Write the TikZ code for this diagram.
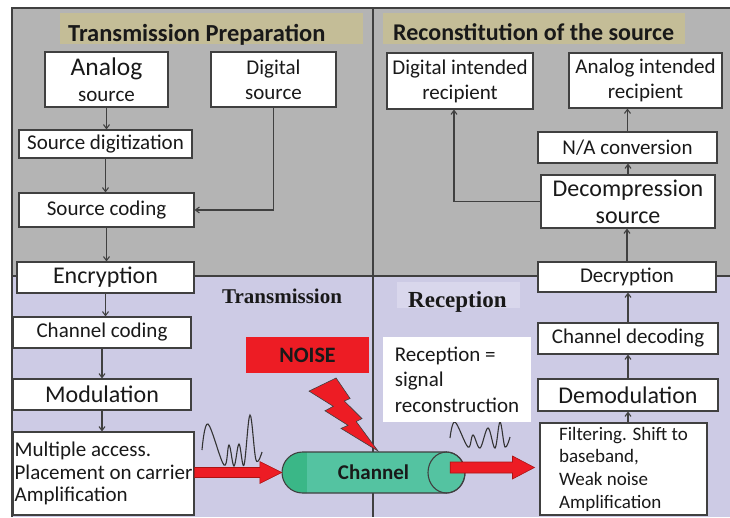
\documentclass[tikz,border=0pt]{standalone}
\usepackage{fontspec}
\setmainfont{Carlito}
\newfontfamily\tnr{Liberation Serif}
\usetikzlibrary{arrows.meta,calc}
\definecolor{topgray}{RGB}{180,180,180}
\definecolor{lav}{RGB}{205,203,229}
\definecolor{khaki}{RGB}{196,189,151}
\definecolor{lavlight}{RGB}{217,215,236}
\definecolor{noisered}{RGB}{237,28,36}
\definecolor{darkred}{RGB}{170,20,20}
\definecolor{chgreen}{RGB}{84,195,161}
\definecolor{chdark}{RGB}{58,183,135}
\definecolor{edge}{RGB}{64,64,64}
\definecolor{txt}{RGB}{25,25,25}
\newcommand\fsz[2]{\fontsize{#1}{#2}\selectfont}
\begin{document}
\begin{tikzpicture}[x=1pt,y=-1pt,
  box/.style={draw=edge, line width=1.1pt, fill=white, inner sep=0pt, align=center, text=txt},
  arr/.style={draw=edge, line width=1.1pt, -{Straight Barb[length=4pt,width=6pt]}},
  frame/.style={draw=edge, line width=1.2pt},
  wave/.style={draw=edge!80!black, line width=1.1pt},
  redblock/.style={fill=noisered, draw=darkred, line width=0.6pt, line join=miter}
]
\useasboundingbox (0,0) rectangle (730,517);
\fill[white] (0,0) rectangle (730,517);
\fill[topgray] (12,8) rectangle (730,276);
\fill[lav] (12,276) rectangle (730,517);
\draw[frame] (12,517) -- (12,8) -- (730,8);
\draw[frame] (12,276) -- (730,276);
\draw[frame] (373,8) -- (373,517);

% titles
\fill[khaki] (60,13) rectangle (363,44);
\fill[khaki] (383,13) rectangle (685,44);
\node[anchor=base west, inner sep=0, text=txt, font=\bfseries\fsz{24.5}{27}] (ttp) at (68,41) {Transmission Preparation};
\node[anchor=base west, inner sep=0, text=txt, font=\bfseries\fsz{24}{27}] (trs) at (393,40) {Reconstitution of the source};

% left column
\node[box, minimum width=123pt, minimum height=55pt, font=\fsz{21}{26}] (anl) at (106.5,79.5) {{\fsz{25.5}{27}Analog}\\source};
\node[box, minimum width=125pt, minimum height=55pt, font=\fsz{21}{25}] (dig) at (273.5,79.5) {Digital\\source};
\node[box, minimum width=173pt, minimum height=28pt, font=\fsz{21}{24}] (sdig) at (105.5,144) {Source digitization};
\node[box, minimum width=175pt, minimum height=34pt, font=\fsz{21}{24}] (scod) at (106.5,210) {Source coding};
\node[box, minimum width=177pt, minimum height=31pt, font=\fsz{24}{26}] (enc) at (105.5,277.5) {Encryption};
\node[box, minimum width=178pt, minimum height=31pt, font=\fsz{21}{24}] (chc) at (102,332.5) {Channel coding};
\node[box, minimum width=178pt, minimum height=31pt, font=\fsz{24}{26}] (mod) at (102,394.5) {Modulation};
\node[box, minimum width=181pt, minimum height=83pt, font=\fsz{21}{22.5}, align=left] (mac) at (103.5,473.5) {Multiple access.\\Placement on carrier\\Amplification};

% right column
\node[box, minimum width=146pt, minimum height=56pt, font=\fsz{21}{25}] (drec) at (460,81) {Digital intended\\recipient};
\node[box, minimum width=153pt, minimum height=55pt, font=\fsz{21}{25}] (arec) at (645.5,80.5) {Analog intended\\recipient};
\node[box, minimum width=179pt, minimum height=31pt, font=\fsz{21}{24}] (na) at (627.5,147.5) {N/A conversion};
\node[box, minimum width=174pt, minimum height=53pt, font=\fsz{24}{27}] (dec) at (628,201.5) {Decompression\\source};
\node[box, minimum width=178pt, minimum height=30pt, font=\fsz{21}{24}] (decr) at (627,277) {Decryption};
\node[box, minimum width=180pt, minimum height=31pt, font=\fsz{21}{24}] (chd) at (628,338.5) {Channel decoding};
\node[box, minimum width=180pt, minimum height=32pt, font=\fsz{24}{26}] (dem) at (628,395) {Demodulation};
\node[box, minimum width=167pt, minimum height=92pt, font=\fsz{19}{22.7}, align=left] (filt) at (623.5,469) {Filtering. Shift to\\baseband,\\Weak noise\\Amplification};

% flow arrows left
\draw[arr] (anl.south) -- (anl.south |- sdig.north);
\draw[arr] (sdig.south) -- (sdig.south |- scod.north);
\draw[arr] (dig.south) |- (scod.east);
\draw[arr] (scod.south) -- (scod.south |- enc.north);
\draw[arr] (enc.south) -- (enc.south |- chc.north);
\draw[arr] (chc.south) -- (chc.south |- mod.north);
\draw[arr] (mod.south) -- (mod.south |- mac.north);

% flow arrows right
\draw[arr] (dem.south |- filt.north) -- (dem.south);
\draw[arr] (dem.north) -- (dem.north |- chd.south);
\draw[arr] (chd.north) -- (chd.north |- decr.south);
\draw[arr] (decr.north) -- (decr.north |- dec.south);
\draw[arr] (dec.north) -- (dec.north |- na.south);
\draw[arr] (na.north) -- (na.north |- arec.south);
\coordinate (drecin) at ([xshift=-6pt]drec.south);
\draw[arr] (dec.west) -| (drecin);

% section labels
\node[anchor=base west, inner sep=0, text=txt, font=\tnr\bfseries\fsz{21}{24}] (ltr) at (222,303) {Transmission};
\fill[lavlight] (397,282) rectangle (520,308);
\node[anchor=base west, inner sep=0, text=txt, font=\tnr\bfseries\fsz{23}{26}] (lrc) at (408,307) {Reception};

% waves
\draw[wave] plot[smooth, tension=0.6] coordinates {(202,450) (208,424) (224,465) (229,445) (234,466) (239,444) (244,465) (250,415) (256,460) (262,452)};
\draw[wave] plot[smooth, tension=0.6] coordinates {(450,438) (455,422) (468,447) (473,435) (480,448) (488,428) (495,448) (500,422) (505,447) (510,437)};

% reception note
\node[fill=white, minimum width=148pt, minimum height=85pt, inner sep=0pt, align=left, text=txt, font=\fsz{21}{25.5}] (recbox) at (457,379.5) {Reception =\\signal\\reconstruction};

% noise
\node[fill=noisered, minimum width=123pt, minimum height=36pt, inner sep=0pt, text=txt, font=\bfseries\fsz{22}{24}] (noise) at (307.5,355) {NOISE};
\filldraw[fill=noisered, draw=edge, line width=0.6pt, line join=miter] (336.1,378) -- (350.1,398.5) -- (344.3,401) -- (362,418.6) -- (356.2,421.5) -- (378,451) -- (341,428.4) -- (348,425.3) -- (325,410.8) -- (333.3,406.3) -- (309,391.1) -- cycle;

% channel
\begin{scope}
\path[clip] (302.5,452) -- (446.5,452) arc[start angle=-90, end angle=90, x radius=18.5, y radius=20.5] -- (302.5,493) arc[start angle=90, end angle=270, radius=20.5] -- cycle;
\fill[chgreen] (280,450) rectangle (470,495);
\fill[chdark] (280,450) rectangle (307,495);
\end{scope}
\draw[edge, line width=1.1pt] (302.5,452) -- (446.5,452) arc[start angle=-90, end angle=90, x radius=18.5, y radius=20.5] -- (302.5,493) arc[start angle=90, end angle=270, radius=20.5] -- cycle;
\draw[edge, line width=1.1pt] (446.5,472.5) ellipse [x radius=18.5, y radius=20.5];
\node[inner sep=0pt, minimum width=183pt, minimum height=41pt, text=txt, font=\bfseries\fsz{21}{24}] (chan) at (373.5,472.5) {Channel};

% red block arrows
\coordinate (a1s) at (mac.east |- chan.west);
\coordinate (a1e) at (chan.west);
\filldraw[redblock] ($(a1s)+(0,-5)$) -- ($(a1e)+(-22,-5)$) -- ($(a1e)+(-22,-11)$) -- (a1e) -- ($(a1e)+(-22,11)$) -- ($(a1e)+(-22,5)$) -- ($(a1s)+(0,5)$) -- cycle;
\coordinate (a2s) at ([shift={(-15,-5)}]chan.east);
\coordinate (a2e) at ([xshift=-5pt]filt.west |- a2s);
\filldraw[redblock] ($(a2s)+(0,-5.5)$) -- ($(a2e)+(-22,-5.5)$) -- ($(a2e)+(-22,-11.5)$) -- (a2e) -- ($(a2e)+(-22,11.5)$) -- ($(a2e)+(-22,5.5)$) -- ($(a2s)+(0,5.5)$) -- cycle;
\end{tikzpicture}
\end{document}
